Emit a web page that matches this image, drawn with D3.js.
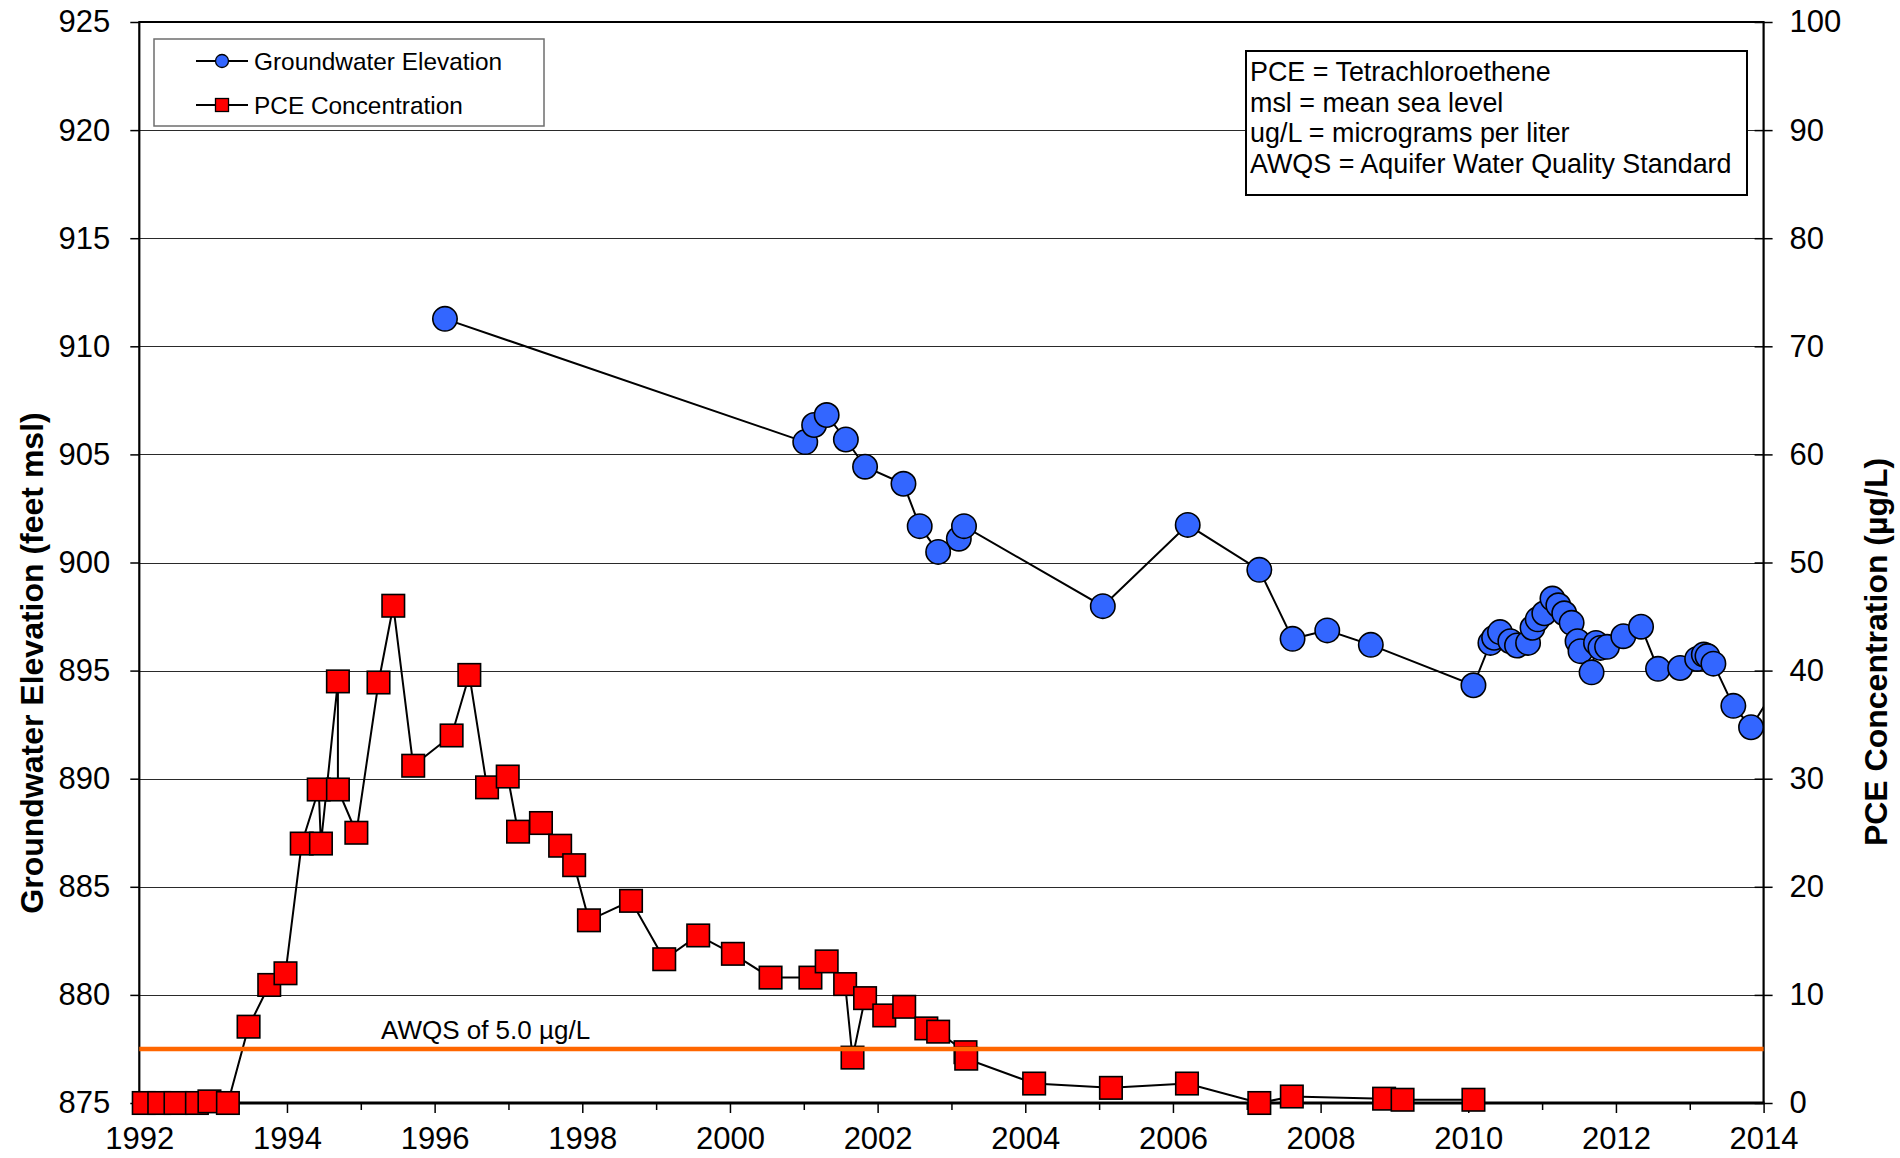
<!DOCTYPE html>
<html>
<head>
<meta charset="utf-8">
<script src="https://cdn.jsdelivr.net/npm/d3@7"></script>
<style>
  html, body { margin: 0; padding: 0; background: #fff; }
  svg { display: block; font-family: Arial, "Liberation Sans", Helvetica, sans-serif; }
</style>
</head>
<body>
<svg id="chart" width="1900" height="1158"></svg>
<script>
// Groundwater elevation (feet msl) by sampling date (decimal year)
const gwDates = [1996.14, 2001.02, 2001.14, 2001.31, 2001.57, 2001.83, 2002.35, 2002.57, 2002.82, 2003.10,
  2003.17, 2005.05, 2006.20, 2007.17, 2007.62, 2008.09, 2008.68, 2010.07, 2010.30, 2010.35,
  2010.43, 2010.57, 2010.66, 2010.81, 2010.87, 2010.94, 2011.03, 2011.14, 2011.22, 2011.30,
  2011.40, 2011.48, 2011.52, 2011.67, 2011.73, 2011.79, 2011.88, 2012.10, 2012.34, 2012.57,
  2012.87, 2013.10, 2013.19, 2013.24, 2013.32, 2013.59, 2013.83, 2014.25];
const gwElevation = [911.27, 905.57, 906.36, 906.82, 905.69, 904.43, 903.64, 901.68, 900.49, 901.10,
  901.68, 897.98, 901.74, 899.66, 896.47, 896.86, 896.19, 894.32, 896.28, 896.52,
  896.78, 896.36, 896.16, 896.28, 896.98, 897.37, 897.65, 898.33, 898.02, 897.65,
  897.21, 896.36, 895.90, 894.92, 896.28, 896.05, 896.10, 896.59, 897.03, 895.08,
  895.12, 895.54, 895.74, 895.67, 895.32, 893.37, 892.38, 894.70];

// PCE concentration (µg/L) by sampling date (decimal year)
const pceDates = [1992.06, 1992.27, 1992.49, 1992.78, 1992.95, 1993.20, 1993.48, 1993.76, 1993.98, 1994.20,
  1994.43, 1994.46, 1994.69, 1994.69, 1994.94, 1995.24, 1995.44, 1995.71, 1996.23, 1996.47,
  1996.71, 1996.99, 1997.13, 1997.44, 1997.70, 1997.89, 1998.09, 1998.66, 1999.11, 1999.57,
  2000.04, 2000.55, 2001.09, 2001.31, 2001.56, 2001.66, 2001.83, 2002.09, 2002.36, 2002.66,
  2002.82, 2003.19, 2003.20, 2004.12, 2005.16, 2006.19, 2007.17, 2007.61, 2008.86, 2009.11,
  2010.07];
const pceConcentration = [0, 0, 0, 0, 0.15, 0, 7.06, 10.92, 12.0, 24.0,
  29.0, 24.0, 39.0, 29.0, 25.0, 38.9, 46.0, 31.2, 34.0, 39.6,
  29.2, 30.2, 25.1, 25.9, 23.8, 22.0, 16.9, 18.7, 13.3, 15.5,
  13.8, 11.6, 11.6, 13.1, 11.0, 4.2, 9.7, 8.1, 8.9, 6.9,
  6.6, 4.7, 4.1, 1.8, 1.4, 1.8, 0.0, 0.6, 0.4, 0.3,
  0.3];

// Aquifer Water Quality Standard for PCE (µg/L)
const awqsStandard = 5.0;

// Axis ticks and labels
const elevationTicks = [875, 880, 885, 890, 895, 900, 905, 910, 915, 920, 925];
const concentrationTicks = [0, 10, 20, 30, 40, 50, 60, 70, 80, 90, 100];
const yearTicks = d3.range(1992, 2015);
const yearLabels = [1992, 1994, 1996, 1998, 2000, 2002, 2004, 2006, 2008, 2010, 2012, 2014];
const legendLabels = ["Groundwater Elevation", "PCE Concentration"];
const noteLines = [
  "PCE = Tetrachloroethene",
  "msl = mean sea level",
  "ug/L = micrograms per liter",
  "AWQS = Aquifer Water Quality Standard"
];

const BLUE = "#3366FF", RED = "#FF0000", ORANGE = "#FF6600";
const plot = { left: 139.3, right: 1763.6, top: 22, bottom: 1103 };

const svg = d3.select("#chart");
svg.append("rect").attr("width", 1900).attr("height", 1158).attr("fill", "#fff");

const x = d3.scaleLinear().domain([1992, 2014]).range([plot.left, plot.right]);
const yL = d3.scaleLinear().domain([875, 925]).range([plot.bottom, plot.top]);
const yR = d3.scaleLinear().domain([0, 100]).range([plot.bottom, plot.top]);

svg.append("clipPath").attr("id", "plotClip")
  .append("rect")
  .attr("x", plot.left).attr("y", plot.top)
  .attr("width", plot.right - plot.left).attr("height", plot.bottom - plot.top);

// horizontal gridlines
svg.append("g").selectAll("line")
  .data(elevationTicks.filter(v => v > 875 && v < 925))
  .join("line")
  .attr("x1", plot.left).attr("x2", plot.right)
  .attr("y1", d => Math.round(yL(d)) + 0.5).attr("y2", d => Math.round(yL(d)) + 0.5)
  .attr("stroke", "#2a2a2a").attr("stroke-width", 1);

// left axis
const leftAxis = svg.append("g")
  .attr("transform", `translate(${plot.left},0)`)
  .call(d3.axisLeft(yL).tickValues(elevationTicks).tickSize(9).tickPadding(20).tickFormat(d3.format("d")));
leftAxis.select(".domain").remove();
leftAxis.selectAll("line").attr("stroke", "#000").attr("stroke-width", 1.5);
leftAxis.selectAll("text").attr("font-size", 31).attr("font-family", "Arial, 'Liberation Sans', sans-serif").attr("fill", "#000");

// right axis (ticks cross the axis line)
const rightAxis = svg.append("g")
  .attr("transform", `translate(${plot.right},0)`)
  .call(d3.axisRight(yR).tickValues(concentrationTicks).tickSize(9).tickPadding(17).tickFormat(d3.format("d")));
rightAxis.select(".domain").remove();
rightAxis.selectAll("line").attr("x1", -9).attr("stroke", "#000").attr("stroke-width", 1.5);
rightAxis.selectAll("text").attr("font-size", 31).attr("font-family", "Arial, 'Liberation Sans', sans-serif").attr("fill", "#000");

// bottom axis: yearly ticks, labels every other year
const bottomAxis = svg.append("g")
  .attr("transform", `translate(0,${plot.bottom})`)
  .call(d3.axisBottom(x).tickValues(yearTicks).tickSize(10).tickPadding(14)
    .tickFormat(d => yearLabels.includes(d) ? String(d) : ""));
bottomAxis.select(".domain").remove();
bottomAxis.selectAll(".tick line")
  .attr("y2", d => yearLabels.includes(d) ? 10 : 7)
  .attr("stroke", "#000").attr("stroke-width", 1.5);
bottomAxis.selectAll("text").attr("font-size", 31).attr("font-family", "Arial, 'Liberation Sans', sans-serif").attr("fill", "#000");

// plot frame
const frame = svg.append("g").attr("stroke", "#000").attr("fill", "none");
frame.append("line").attr("x1", plot.left - 1).attr("x2", plot.right + 1).attr("y1", plot.top).attr("y2", plot.top).attr("stroke-width", 2.2);
frame.append("line").attr("x1", plot.left).attr("x2", plot.left).attr("y1", plot.top).attr("y2", plot.bottom).attr("stroke-width", 2.2);
frame.append("line").attr("x1", plot.right).attr("x2", plot.right).attr("y1", plot.top).attr("y2", plot.bottom).attr("stroke-width", 2.2);
frame.append("line").attr("x1", plot.left - 1).attr("x2", plot.right + 1).attr("y1", plot.bottom).attr("y2", plot.bottom).attr("stroke-width", 3);

// axis titles
svg.append("text")
  .attr("transform", `translate(43,663) rotate(-90)`)
  .attr("text-anchor", "middle").attr("font-size", 32).attr("font-weight", "bold")
  .text("Groundwater Elevation (feet msl)");
svg.append("text")
  .attr("transform", `translate(1887,652) rotate(-90)`)
  .attr("text-anchor", "middle").attr("font-size", 32).attr("font-weight", "bold")
  .text("PCE Concentration (µg/L)");

// groundwater elevation series
const gwData = gwDates.map((d, i) => ({ t: d, v: gwElevation[i] }));
svg.append("path")
  .datum(gwData)
  .attr("clip-path", "url(#plotClip)")
  .attr("fill", "none").attr("stroke", "#000").attr("stroke-width", 2)
  .attr("d", d3.line().x(d => x(d.t)).y(d => yL(d.v)));
svg.append("g").selectAll("circle")
  .data(gwData.filter(d => d.t <= 2014))
  .join("circle")
  .attr("cx", d => x(d.t)).attr("cy", d => yL(d.v)).attr("r", 12.2)
  .attr("fill", BLUE).attr("stroke", "#000").attr("stroke-width", 1.6);

// PCE concentration series
const pceData = pceDates.map((d, i) => ({ t: d, v: pceConcentration[i] }));
svg.append("path")
  .datum(pceData)
  .attr("clip-path", "url(#plotClip)")
  .attr("fill", "none").attr("stroke", "#000").attr("stroke-width", 2)
  .attr("d", d3.line().x(d => x(d.t)).y(d => yR(d.v)));
const sq = 22.5;
svg.append("g").selectAll("rect")
  .data(pceData)
  .join("rect")
  .attr("x", d => x(d.t) - sq / 2).attr("y", d => yR(d.v) - sq / 2)
  .attr("width", sq).attr("height", sq)
  .attr("fill", RED).attr("stroke", "#000").attr("stroke-width", 1.6);

// AWQS reference line
svg.append("line")
  .attr("x1", plot.left).attr("x2", plot.right)
  .attr("y1", yR(awqsStandard)).attr("y2", yR(awqsStandard))
  .attr("stroke", ORANGE).attr("stroke-width", 4.5);
svg.append("text")
  .attr("x", 381).attr("y", yR(awqsStandard) - 10)
  .attr("font-size", 26).attr("fill", "#000")
  .text("AWQS of 5.0 µg/L");

// legend
const legend = svg.append("g");
legend.append("rect").attr("x", 154).attr("y", 39).attr("width", 390).attr("height", 87)
  .attr("fill", "#fff").attr("stroke", "#6e6e6e").attr("stroke-width", 1.5);
const rows = legend.selectAll("g.row").data(legendLabels).join("g")
  .attr("class", "row")
  .attr("transform", (d, i) => `translate(0,${61 + i * 44})`);
rows.append("line").attr("x1", 196).attr("x2", 248).attr("y1", 0).attr("y2", 0)
  .attr("stroke", "#000").attr("stroke-width", 2);
rows.filter((d, i) => i === 0).append("circle")
  .attr("cx", 222).attr("cy", 0).attr("r", 6.5)
  .attr("fill", BLUE).attr("stroke", "#000").attr("stroke-width", 1.3);
rows.filter((d, i) => i === 1).append("rect")
  .attr("x", 222 - 6.5).attr("y", -6.5).attr("width", 13).attr("height", 13)
  .attr("fill", RED).attr("stroke", "#000").attr("stroke-width", 1.3);
rows.append("text").attr("x", 254).attr("y", 0).attr("dy", "0.35em")
  .attr("font-size", 24.4).attr("fill", "#000")
  .text(d => d);

// abbreviations note
const note = svg.append("g");
note.append("rect").attr("x", 1246).attr("y", 51).attr("width", 501).attr("height", 144)
  .attr("fill", "#fff").attr("stroke", "#000").attr("stroke-width", 2);
note.selectAll("text").data(noteLines).join("text")
  .attr("x", 1250).attr("y", (d, i) => 81 + i * 30.6)
  .attr("font-size", 26.9).attr("fill", "#000")
  .text(d => d);
</script>
</body>
</html>
